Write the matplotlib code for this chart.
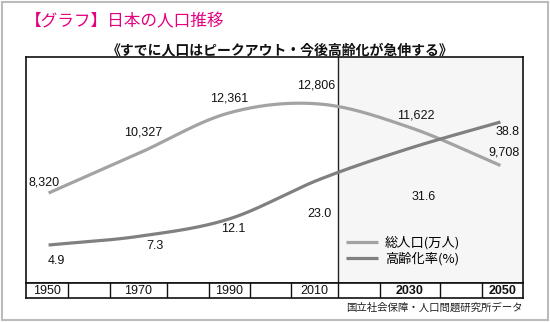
import numpy as np
import matplotlib
matplotlib.use("Agg")
import matplotlib.pyplot as plt
from matplotlib.patches import Rectangle

# ---- data ----
years = [1950, 1970, 1990, 2010, 2030, 2050]
population = [8320, 10327, 12361, 12806, 11622, 9708]      # 万人
aging_rate = [4.9, 7.3, 12.1, 23.0, 31.6, 38.8]             # %
pop_labels = ["8,320", "10,327", "12,361", "12,806", "11,622", "9,708"]
aging_labels = ["4.9", "7.3", "12.1", "23.0", "31.6", "38.8"]
year_row_labels = ["1950", "", "1970", "", "1990", "", "2010", "", "2030", "", "2050"]
projection_start = 2014

title = "【グラフ】日本の人口推移"
subtitle = "《すでに人口はピークアウト・今後高齢化が急伸する》"
legend_labels = ["総人口(万人)", "高齢化率(%)"]
source = "国立社会保障・人口問題研究所データ"

# ---- layout / style ----
W, H = 550, 322
JP = ["Noto Sans CJK JP", "DejaVu Sans"]
NUM = ["Liberation Sans", "DejaVu Sans"]
cell_edges = [1945, 1954.3, 1963.6, 1976.2, 1985.5, 1994.6, 2003.7, 2014, 2023.4, 2036.6, 2045.9, 2055]
pop_color = "#a3a3a3"
age_color = "#808080"
pop_off = [(-5, 11), (4, 21), (0, 14), (-3, 19), (6, 12), (4, 13)]
age_off = [(8, -16), (16, -10), (4, -10), (0, -35), (14, -49), (7, -10)]


def smooth(x, y, n=300):
    """Catmull-Rom style smoothed line through the data points (drawing only)."""
    x = np.asarray(x, float); y = np.asarray(y, float)
    k = len(x); h = np.diff(x)
    m = np.zeros(k)
    m[1:-1] = (y[2:] - y[:-2]) / (x[2:] - x[:-2])
    m[0] = (y[1] - y[0]) / h[0]
    m[-1] = (y[-1] - y[-2]) / h[-1]
    xs = np.linspace(x[0], x[-1], n)
    idx = np.clip(np.searchsorted(x, xs) - 1, 0, k - 2)
    t = (xs - x[idx]) / h[idx]
    h00 = 2 * t**3 - 3 * t**2 + 1; h10 = t**3 - 2 * t**2 + t
    h01 = -2 * t**3 + 3 * t**2; h11 = t**3 - t**2
    ys = h00 * y[idx] + h10 * h[idx] * m[idx] + h01 * y[idx + 1] + h11 * h[idx] * m[idx + 1]
    return xs, ys


fig = plt.figure(figsize=(W / 100, H / 100), dpi=100)
fig.patch.set_facecolor("white")
fig.patches.append(Rectangle((2 / W, 2 / H), 546 / W, 318 / H, transform=fig.transFigure,
                             fill=False, edgecolor="#bbbbbb", linewidth=1.5))

left, right, top, bottom = 26, 523, 57, 283
ax = fig.add_axes([left / W, 1 - bottom / H, (right - left) / W, (bottom - top) / H])
ax.set_xlim(1945, 2055)
ax.set_ylim(3784, 15175)
ax.axvspan(projection_start, 2055, color="#f6f6f6", zorder=0)
ax.axvline(projection_start, color="#222222", lw=1, zorder=1)
for s in ax.spines.values():
    s.set_color("#111111"); s.set_linewidth(1.2)
ax.set_xticks([]); ax.set_yticks([])

ax2 = ax.twinx()
ax2.set_ylim(-5.57, 56.72)
ax2.set_yticks([])
for s in ax2.spines.values():
    s.set_visible(False)

xs, ys = smooth(years, population)
l1, = ax.plot(xs, ys, color=pop_color, lw=2.3, solid_capstyle="butt", zorder=3)
xs, ys = smooth(years, aging_rate)
l2, = ax2.plot(xs, ys, color=age_color, lw=2.3, solid_capstyle="butt", zorder=3)

for yr, v, t, (dx, dy) in zip(years, population, pop_labels, pop_off):
    ax.annotate(t, (yr, v), xytext=(dx, dy), textcoords="offset pixels", ha="center",
                va="center", fontsize=9, family=NUM, color="#111111")
for yr, v, t, (dx, dy) in zip(years, aging_rate, aging_labels, age_off):
    ax2.annotate(t, (yr, v), xytext=(dx, dy), textcoords="offset pixels", ha="center",
                 va="center", fontsize=9, family=NUM, color="#111111")

leg = ax2.legend([l1, l2], legend_labels, loc="upper left",
                 bbox_to_anchor=((346 - left) / (right - left), (bottom - 236) / (bottom - top)),
                 frameon=False, borderpad=0, borderaxespad=0, handlelength=2.4,
                 handletextpad=0.55, labelspacing=0.15, prop={"family": JP, "size": 9.5})

# year row
yax = fig.add_axes([left / W, 1 - 298 / H, (right - left) / W, 15 / H])
yax.set_xlim(1945, 2055); yax.set_ylim(0, 1)
yax.set_xticks([]); yax.set_yticks([])
for s in yax.spines.values():
    s.set_color("#111111"); s.set_linewidth(1.2)
for e in cell_edges[1:-1]:
    yax.axvline(e, color="#111111", lw=1)
for i, lab in enumerate(year_row_labels):
    if lab:
        c = (cell_edges[i] + cell_edges[i + 1]) / 2
        yax.text(c, 0.45, lab, ha="center", va="center", fontsize=9, family=NUM,
                 fontweight="bold" if int(lab) > projection_start else "normal", color="#111111")

fig.text(25 / W, 1 - 22 / H, title, color="#e4007f", fontsize=12, family=JP,
         ha="left", va="center")
fig.text(280.5 / W, 1 - 50 / H, subtitle, color="#111111", fontsize=10, family=JP,
         fontweight="bold", ha="center", va="center")
fig.text(523 / W, 1 - 308 / H, source, color="#222222", fontsize=7.5, family=JP,
         ha="right", va="center")

fig.savefig("out.png", dpi=100)
